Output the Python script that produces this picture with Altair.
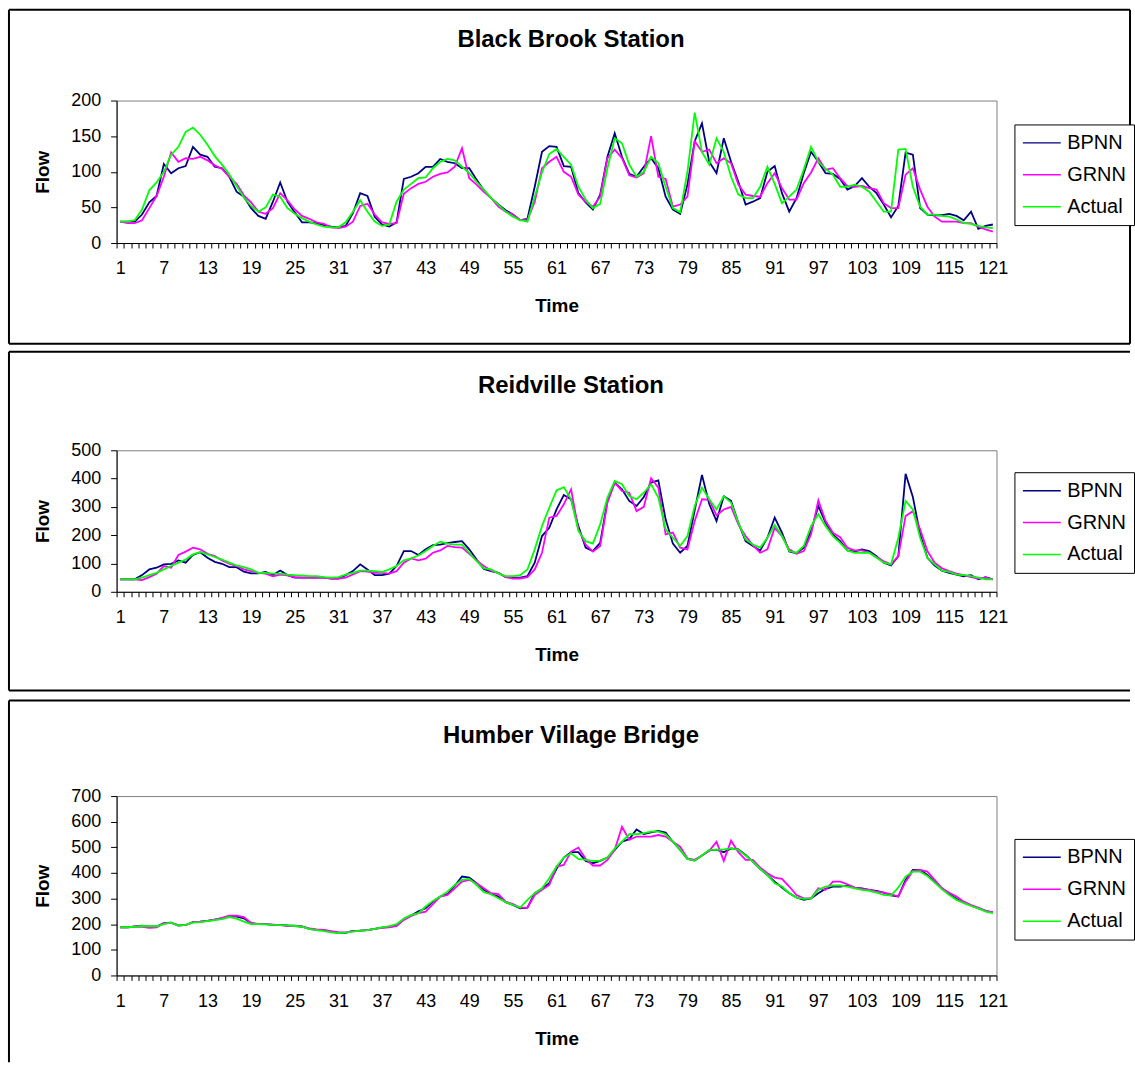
import altair as alt
import pandas as pd

time = list(range(1, 122))
series_names = ["BPNN", "GRNN", "Actual"]
series_colors = ["#000080", "#FF00FF", "#00FF00"]
x_labels_every = 6

bb_bpnn = [30,30,30,40,57,66,111,98,105,108,
135,124,121,107,105,93,72,65,49,38,
34,58,85,58,43,29,29,28,25,23,
22,24,42,70,66,37,26,23,29,90,
93,98,107,107,118,114,112,105,105,89,
74,63,54,46,40,32,34,79,128,136,
135,108,107,70,57,47,68,121,154,121,
97,93,107,119,105,65,47,41,82,143,
168,114,98,147,114,86,54,58,63,100,
108,70,44,63,98,128,114,98,97,90,
75,80,91,79,70,54,36,52,127,124,
49,40,39,39,41,38,32,44,20,24,26]
bb_grnn = [30,28,28,32,49,66,93,127,114,119,
118,121,116,109,104,93,83,67,57,44,
41,49,70,60,47,38,34,29,27,22,
21,23,30,52,55,40,29,27,28,69,
77,83,86,93,97,99,107,133,91,82,
72,63,51,44,40,32,32,58,105,114,
121,100,93,68,58,51,65,119,131,119,
95,92,98,150,93,90,51,54,65,143,
128,131,112,119,112,82,68,66,65,84,
98,77,61,61,84,99,119,103,105,91,
80,79,80,77,75,56,49,49,96,105,
75,51,37,30,30,30,28,28,23,19,16]
bb_actual = [30,30,32,47,74,85,100,124,135,156,
162,152,138,122,110,96,80,64,52,44,
50,68,65,49,41,35,30,26,23,22,
22,29,44,60,44,30,24,26,58,75,
83,91,92,105,114,118,116,107,98,86,
75,63,54,44,37,32,30,65,99,125,
132,121,110,79,61,49,55,105,147,140,
110,93,100,121,112,79,49,43,100,183,
128,110,147,128,93,68,63,63,79,107,
83,56,65,75,103,135,114,104,96,79,
79,82,79,72,58,44,44,131,132,79,
51,40,40,38,37,33,28,27,24,22,21]

rv_bpnn = [44,44,44,59,79,85,97,99,111,103,
130,140,120,106,99,87,87,71,65,65,
70,59,75,59,50,50,50,50,50,47,
47,59,73,97,79,59,59,64,91,144,
144,130,150,165,167,172,176,179,150,114,
81,73,67,52,50,50,55,103,197,226,
291,342,327,232,156,144,173,321,386,362,
321,303,335,386,394,256,170,138,162,288,
413,310,250,338,321,244,179,162,146,191,
262,209,142,136,156,215,303,244,203,179,
146,142,150,144,126,103,93,126,417,335,
203,120,93,75,67,61,55,59,44,52,44]
rv_grnn = [44,44,44,41,52,64,91,85,130,142,
156,150,134,126,111,99,91,79,73,67,
64,55,61,58,52,50,50,50,50,47,
47,50,61,73,71,67,67,64,73,103,
118,111,117,138,146,162,158,156,134,111,
91,75,67,52,47,47,52,79,138,262,
268,309,362,221,167,142,162,315,386,356,
350,285,300,401,368,203,209,156,150,250,
327,325,270,291,300,238,197,165,138,150,
226,197,150,134,144,203,323,250,209,193,
156,146,146,138,123,108,97,126,268,285,
221,144,103,83,73,64,59,52,47,50,44]
rv_actual = [44,44,44,50,59,67,79,91,103,114,
132,140,132,123,114,103,93,87,79,67,
67,64,64,61,59,58,55,55,52,50,
52,61,67,75,75,73,70,79,91,111,
118,128,144,162,177,170,167,167,138,108,
83,79,65,55,55,59,79,150,232,297,
358,370,327,215,179,170,238,333,392,380,
338,327,350,380,333,221,191,162,197,303,
368,327,291,338,315,244,185,167,156,191,
236,197,144,138,162,232,274,232,197,173,
146,138,138,138,120,103,97,191,321,291,
191,120,97,75,70,61,59,55,50,44,44]

hv_bpnn = [188,188,191,194,190,191,204,206,195,197,
208,210,213,218,223,232,230,223,204,200,
200,197,197,195,194,191,182,178,177,171,
165,166,174,175,177,182,187,190,194,219,
234,250,262,288,308,317,350,386,382,360,
334,317,308,286,275,262,265,321,338,360,
416,460,481,481,447,438,447,460,490,522,
532,570,552,558,564,558,522,490,455,448,
468,488,491,481,496,492,470,444,416,392,
366,343,321,304,295,301,321,338,347,347,
351,343,340,334,330,323,312,308,373,412,
412,392,366,340,318,299,286,273,262,252,245]
hv_grnn = [188,188,190,190,186,188,204,205,196,196,
208,210,213,218,225,233,233,228,205,201,
200,198,196,193,193,190,184,180,178,173,
169,168,173,175,177,182,186,188,193,217,
232,243,249,278,308,314,340,366,373,360,
340,321,317,288,278,265,265,314,334,353,
425,431,483,499,455,429,429,451,490,580,
529,542,542,542,548,542,522,503,457,451,
468,486,522,447,526,481,451,451,421,399,
382,377,347,314,301,301,340,334,366,366,
356,343,338,334,327,323,317,308,366,408,
412,405,373,340,323,308,288,275,265,252,247]
hv_actual = [188,188,190,193,192,192,200,206,195,197,
206,208,212,216,220,228,222,210,200,200,
199,197,196,195,193,190,181,177,173,168,
165,167,171,175,177,182,188,192,200,222,
236,243,269,291,308,327,353,373,377,353,
325,317,301,286,275,265,295,321,340,379,
425,460,477,455,451,447,447,460,496,522,
551,551,555,561,561,551,522,490,455,448,
468,490,490,492,496,490,468,444,416,392,
360,347,321,304,299,301,334,347,351,351,
347,340,334,330,323,314,312,343,386,405,
405,388,362,336,314,295,282,271,262,249,243]

FONT = "Liberation Sans"
W = 883
one = pd.DataFrame({"k": [0]})


def hline(x1, x2, y, op=1.0):
    return alt.Chart(one).mark_rule(color="black", strokeWidth=2, opacity=op).encode(
        x=alt.value(x1), x2=alt.value(x2), y=alt.value(y))


def vline(x, y1, y2):
    return alt.Chart(one).mark_rule(color="black", strokeWidth=2).encode(
        x=alt.value(x), y=alt.value(y1), y2=alt.value(y2))


def panel(title, bp, gr, ac, ymax, ystep, h, legend_y, title_y, frame):
    df = pd.DataFrame({
        "Time": time * 3,
        "Flow": bp + gr + ac,
        "Series": [series_names[0]] * 121 + [series_names[1]] * 121 + [series_names[2]] * 121,
    })
    lines = alt.Chart(df).mark_line(strokeWidth=1.8).encode(
        x=alt.X("Time:O", bandPosition=0.5,
                scale=alt.Scale(type="band", domain=time, paddingInner=0, paddingOuter=0),
                axis=alt.Axis(title="Time", tickBand="extent",
                              labelExpr=f"(datum.value - 1) % {x_labels_every} == 0 ? datum.label : ''",
                              labelAngle=0, labelOverlap=False, labelFont=FONT, labelFontSize=18,
                              labelColor="black", labelPadding=12, tickSize=5, tickColor="black",
                              domainColor="black", titleFont=FONT, titleFontSize=19,
                              titleFontWeight="bold", titleColor="black", titlePadding=19, grid=False)),
        y=alt.Y("Flow:Q", scale=alt.Scale(domain=[0, ymax], nice=False),
                axis=alt.Axis(title="Flow", values=list(range(0, ymax + 1, ystep)), labelFont=FONT,
                              labelFontSize=18, labelColor="black", labelPadding=10, tickSize=6,
                              tickColor="black", domainColor="black", titleFont=FONT, titleFontSize=19,
                              titleFontWeight="bold", titleColor="black", titlePadding=18, grid=False)),
        color=alt.Color("Series:N", scale=alt.Scale(domain=series_names, range=series_colors),
                        legend=alt.Legend(orient="none", legendX=901, legendY=legend_y, title=None,
                                          symbolType="M-2,0H2", symbolSize=361, symbolStrokeWidth=1.5,
                                          symbolOffset=9, labelOffset=15, rowPadding=11, padding=8,
                                          strokeColor="black", fillColor="white", labelFont=FONT,
                                          labelFontSize=20, labelColor="black")),
    )
    tdf = pd.DataFrame({"label": [title]})
    ttl = alt.Chart(tdf).mark_text(font=FONT, fontSize=24, fontWeight="bold", align="center",
                                   baseline="middle", color="black").encode(
        x=alt.value(456), y=alt.value(title_y), text="label:N")
    return alt.layer(lines, ttl, *frame).properties(width=W, height=h)


frame1 = [hline(-108, 1017, -91), hline(-108, 1017, 244), vline(-108, -91, 244), vline(1017, -91, 244)]
frame2 = [hline(-108, 1017, -99), hline(-108, 1017, 241), vline(-108, -99, 241), hline(-108, -100, 244, 0.0)]
frame3 = [hline(-108, 1017, -96), vline(-108, -96, 267)]

p1 = panel("Black Brook Station", bb_bpnn, bb_grnn, bb_actual, 200, 50, 143, 24, -61, frame1)
p2 = panel("Reidville Station", rv_bpnn, rv_grnn, rv_actual, 500, 100, 142, 22, -64, frame2)
p3 = panel("Humber Village Bridge", hv_bpnn, hv_grnn, hv_actual, 700, 100, 180, 43, -60, frame3)

chart = alt.vconcat(p1, p2, p3, spacing=4).resolve_scale(
    color="independent", y="independent", x="independent"
).resolve_legend(color="independent").properties(
    padding={"left": 7, "top": 6, "right": 0, "bottom": 0}
).configure_view(stroke="#808080", strokeWidth=1)

chart.save("out.html", embed_options={"renderer": "svg", "actions": False})
